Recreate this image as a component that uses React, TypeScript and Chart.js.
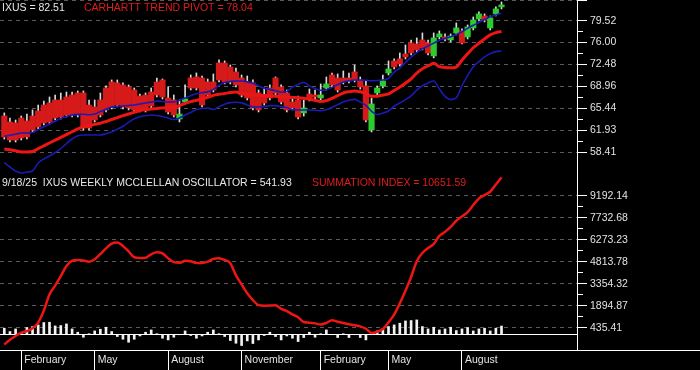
import React, { useEffect, useRef } from "react";
import { Chart, registerables } from "chart.js";

Chart.register(...registerables);

// ---------- categories (weekly bars) ----------
const START_DATE = "2024-01-12"; // first weekly bar
const WEEK_COUNT = 89;
const MONTH_NAMES = ["January", "February", "March", "April", "May", "June", "July", "August", "September", "October", "November", "December"];
const LABELED_MONTHS = [1, 4, 7, 10];

// ---------- price panel (IXUS weekly) ----------
const openPrices = [
  64.23, 63.27, 63.11, 63.91, 63.43, 64.23, 65.04, 65.99, 66.32, 66.8,
  66.8, 67.28, 67.6, 67.92, 67.92, 65.99, 65.68, 66.8, 68.72, 69.69,
  69.53, 69.21, 68.89, 68.4, 67.44, 67.6, 68.08, 69.69, 70.01, 67.12,
  66.8, 63.75, 66.48, 70.33, 70.49, 70.33, 69.69, 69.69, 72.73, 72.73,
  72.09, 71.29, 70.33, 69.69, 69.53, 67.92, 67.6, 68.72, 70.33, 68.89,
  67.92, 66.48, 66.8, 64.72, 67.76, 67.6, 67.12, 68.72, 70.81, 70.33,
  70.33, 70.33, 71.29, 70.01, 69.05, 61.99, 67.92, 69.05, 71.13, 73.06,
  73.38, 74.18, 75.94, 75.78, 76.42, 75.94, 73.86, 76.91, 76.91, 76.42,
  77.55, 77.87, 76.91, 78.35, 79.79, 80.27, 78.35, 80.6, 81.72,
];
const highPrices = [
  64.72, 63.91, 63.59, 64.23, 64.55, 65.2, 65.99, 66.64, 67.28, 67.6,
  67.92, 68.08, 68.08, 68.24, 68.24, 66.8, 66.8, 67.92, 69.05, 70.01,
  70.01, 69.53, 69.21, 68.72, 67.76, 67.92, 68.72, 70.33, 70.17, 68.89,
  67.6, 66.8, 69.21, 70.81, 71.13, 70.65, 70.17, 70.97, 73.22, 73.06,
  72.41, 71.93, 70.81, 70.65, 70.01, 68.4, 68.72, 69.21, 70.49, 69.21,
  68.4, 67.12, 67.44, 66.8, 68.56, 68.4, 69.37, 70.49, 71.13, 70.97,
  71.45, 71.13, 72.41, 70.49, 69.85, 67.12, 69.05, 70.81, 73.06, 73.38,
  74.34, 75.62, 76.42, 76.75, 77.55, 76.42, 77.55, 77.87, 77.39, 77.39,
  79.15, 78.19, 78.83, 80.11, 80.92, 80.6, 80.27, 81.72, 82.52,
];
const lowPrices = [
  60.54, 60.06, 60.06, 60.38, 60.54, 61.67, 62.15, 62.79, 62.95, 63.59,
  63.75, 64.07, 64.07, 64.07, 61.99, 61.99, 63.27, 64.07, 64.88, 65.36,
  65.68, 65.36, 65.2, 64.88, 64.88, 64.88, 65.52, 67.28, 66.96, 64.55,
  64.07, 63.27, 66.16, 68.4, 68.4, 65.68, 67.28, 68.08, 69.69, 69.37,
  69.37, 68.89, 67.28, 66.8, 65.2, 64.88, 65.99, 66.8, 67.6, 66.16,
  64.88, 65.2, 63.75, 64.23, 66.64, 66.96, 66.8, 68.4, 68.89, 68.08,
  69.37, 69.53, 69.69, 68.56, 63.27, 61.67, 67.6, 68.72, 70.81, 71.77,
  72.25, 73.38, 74.02, 74.5, 74.82, 74.02, 73.54, 76.58, 76.26, 76.1,
  77.23, 75.78, 76.58, 78.03, 79.47, 79.31, 78.03, 80.27, 81.4,
];
const closePrices = [
  60.87, 60.38, 60.38, 60.71, 60.87, 61.99, 62.47, 63.11, 63.27, 63.91,
  64.07, 64.39, 64.39, 64.39, 62.31, 62.31, 63.59, 64.39, 65.2, 65.68,
  65.99, 65.68, 65.52, 65.2, 65.2, 65.2, 65.84, 67.6, 67.28, 64.88,
  64.39, 64.55, 66.96, 68.72, 68.72, 65.99, 67.6, 68.4, 70.01, 69.69,
  69.69, 69.21, 67.6, 67.12, 65.52, 65.2, 66.32, 67.12, 67.92, 66.48,
  65.2, 65.52, 64.07, 65.52, 66.96, 67.28, 67.6, 69.37, 69.21, 68.4,
  69.69, 69.85, 70.01, 68.89, 63.59, 66.16, 68.72, 69.85, 71.77, 72.09,
  72.57, 73.7, 74.34, 74.82, 75.14, 74.34, 76.75, 77.39, 76.58, 77.07,
  78.35, 75.94, 78.51, 79.63, 80.6, 79.63, 79.95, 81.4, 82.04,
];
const trendPivot = [
  58.94, 58.83, 58.65, 58.46, 58.46, 58.54, 59.0, 59.45, 59.9, 60.35,
  60.8, 61.25, 61.7, 62.15, 62.52, 62.71, 62.89, 63.06, 63.35, 63.67,
  63.98, 64.28, 64.55, 64.83, 65.1, 65.24, 65.34, 65.44, 65.52, 65.6,
  65.66, 65.9, 66.25, 66.54, 66.74, 66.96, 67.23, 67.54, 67.7, 67.84,
  67.99, 68.07, 67.79, 67.7, 67.6, 67.55, 67.51, 67.46, 67.41, 67.3,
  67.27, 67.2, 67.17, 67.09, 66.91, 66.74, 66.56, 66.69, 67.06, 67.49,
  67.92, 68.12, 68.23, 68.13, 67.86, 67.41, 67.41, 67.59, 67.76, 68.32,
  68.87, 69.49, 70.2, 71.1, 71.8, 72.25, 72.67, 72.14, 72.01, 71.95,
  72.08, 73.17, 74.2, 75.17, 75.89, 76.6, 77.23, 77.6, 77.8,
];
const upperBand = [
  60.96, 61.14, 61.31, 61.51, 61.51, 61.59, 62.05, 62.5, 62.95, 63.4,
  63.85, 64.14, 64.39, 64.49, 64.52, 64.44, 64.55, 64.94, 65.31, 65.68,
  65.76, 65.84, 65.92, 66.0, 66.16, 66.32, 66.45, 66.62, 66.56, 66.48,
  66.48, 66.75, 67.1, 67.49, 67.79, 67.97, 68.1, 68.5, 69.14, 69.59,
  69.78, 69.85, 69.85, 69.7, 69.49, 69.06, 68.68, 68.5, 68.29, 68.04,
  68.16, 68.85, 69.3, 69.61, 69.06, 68.63, 68.36, 68.45, 68.82, 69.25,
  69.7, 69.88, 70.01, 70.01, 69.96, 69.88, 69.91, 70.01, 70.25, 71.27,
  71.92, 72.82, 73.68, 74.4, 75.01, 75.46, 75.91, 76.38, 76.66, 76.95,
  77.31, 77.74, 78.28, 78.77, 79.22, 79.68, 80.13, 80.43, 80.72,
];
const lowerBand = [
  56.76, 56.05, 55.41, 55.09, 55.25, 55.41, 56.69, 57.34, 57.82, 58.38,
  59.0, 59.81, 60.54, 61.07, 61.19, 61.19, 61.19, 61.19, 61.39, 61.67,
  62.1, 62.58, 63.21, 63.77, 64.11, 64.28, 64.38, 64.3, 64.15, 63.91,
  63.66, 63.91, 64.38, 64.79, 65.26, 65.42, 65.5, 65.26, 65.73, 66.11,
  66.37, 66.43, 66.33, 66.01, 65.68, 65.68, 65.73, 65.9, 65.9, 65.73,
  65.58, 65.21, 65.2, 65.2, 65.2, 65.16, 65.07, 65.24, 65.61, 66.05,
  66.49, 66.75, 66.9, 66.48, 65.92, 64.99, 64.46, 64.7, 65.04, 65.79,
  66.32, 66.85, 67.46, 68.37, 69.08, 69.53, 69.85, 68.55, 67.38, 66.86,
  67.12, 69.08, 70.71, 72.14, 72.94, 73.7, 74.23, 74.55, 74.66,
];

// ---------- oscillator panel ----------
const mcclellanOscillator = [
  398, 179, 352, 66, 444, 511, 617, 776, 796, 551,
  577, 683, 352, 133, -199, 33, 219, 332, 464, 179,
  -153, -332, -531, -332, -113, 133, 285, 33, -265, -378,
  -199, -33, 219, -86, -265, -113, 133, 285, 20, -153,
  -418, -597, -750, -444, -617, -378, -86, 133, -153, -378,
  -113, -265, -484, -219, 133, -199, 20, 285, -20, -219,
  20, -219, -20, -219, -378, -20, 219, 352, 511, 617,
  730, 882, 909, 949, 511, 352, 464, 285, 352, 464,
  245, 352, 444, 219, 352, 398, 219, 398, 541.93,
];
const summationIndex = [
  -679, -374, -122, 110, 216, 402, 774, 1570, 2644, 3228,
  3852, 4528, 4877, 4926, 4900, 4807, 4973, 5324, 5696, 6014,
  6087, 5855, 5497, 5106, 5059, 5079, 5305, 5444, 5364, 5033,
  4780, 4734, 4873, 4840, 4727, 4727, 4814, 4999, 5046, 4933,
  4714, 3905, 3308, 2717, 2266, 1928, 1894, 1901, 1921, 1682,
  1536, 1311, 1132, 807, 767, 720, 647, 754, 926, 833,
  747, 667, 594, 521, 362, 84, 157, 349, 787, 1304,
  2047, 2877, 3799, 4840, 5391, 5716, 5988, 6525, 6791, 7116,
  7527, 7812, 8097, 8575, 9006, 9225, 9454, 9929, 10406,
];

// ---------- tick labels ----------
const topTickLabels = ["58.41", "61.93", "65.44", "68.96", "72.48", "76.00", "79.52"];
const bottomTickLabels = ["435.41", "1894.87", "3354.32", "4813.78", "6273.23", "7732.68", "9192.14"];

// ---------- titles ----------
const priceTitle = "IXUS = 82.51";
const pivotTitle = "CARHARTT TREND PIVOT = 78.04";
const oscTitle = "9/18/25  IXUS WEEKLY MCCLELLAN OSCILLATOR = 541.93";
const sumTitle = "SUMMATION INDEX = 10651.59";

// ---------- axis ranges ----------
const TOP_MIN = 55.25;
const TOP_MAX = 82.83;
const BOT_MIN = -1046;
const BOT_MAX = 10762;
const X_MIN = -0.76;
const X_MAX = 101.36;

const FONT = "'Liberation Sans', Arial, Helvetica, sans-serif";
const AXIS_TEXT = "#e2e2e2";
const GRID_COLOR = "#5a5a5a";
const RED_LINE = "#ee1515";
const BLUE_LINE = "#1a1ab4";
const BODY_RED = "#d61a1a";
const BODY_GREEN = "#2ccc2c";

const weekDates = Array.from({ length: WEEK_COUNT }, (_, i) => {
  const d = new Date(START_DATE + "T00:00:00Z");
  d.setUTCDate(d.getUTCDate() + 7 * i);
  return d;
});
const monthTickIndices = weekDates
  .map((d, i) =>
    i > 0 && d.getUTCMonth() !== weekDates[i - 1].getUTCMonth() && LABELED_MONTHS.includes(d.getUTCMonth()) ? i : -1
  )
  .filter((i) => i >= 0);

const near = (a: number, b: number) => Math.abs(a - b) < 1e-6;

const majorTop = topTickLabels.map(Number);
const minorTop = majorTop.slice(1).map((v, i) => (v + majorTop[i]) / 2);
const majorBot = bottomTickLabels.map(Number);
const minorBot = majorBot.slice(1).map((v, i) => (v + majorBot[i]) / 2);

function kindFor(value: number, majors: number[], minors: number[]) {
  if (majors.some((m) => near(m, value))) return "major";
  if (minors.some((m) => near(m, value))) return "minor";
  if (value === 0) return "zero";
  return "edge";
}

function axisOptions(majors: number[], minors: number[], labels: string[], extra: number[], weight: number, min: number, max: number) {
  const kind = (c: any) => (c && c.tick ? kindFor(c.tick.value, majors, minors) : "major");
  return {
    type: "linear" as const,
    position: "right" as const,
    stack: "panels",
    stackWeight: weight,
    min,
    max,
    bounds: "data" as const,
    afterBuildTicks: (s: any) => {
      s.ticks = [...majors, ...minors, ...extra].sort((a, b) => a - b).map((v) => ({ value: v }));
    },
    afterFit: (s: any) => {
      s.width = 123;
      s.paddingTop = 0;
      s.paddingBottom = 0;
    },
    grid: {
      drawOnChartArea: true,
      drawTicks: true,
      tickLength: 10,
      lineWidth: 1,
      color: (c: any) => {
        const k = kind(c);
        if (k === "minor") return "rgba(0,0,0,0)";
        if (k === "zero") return "#ffffff";
        return GRID_COLOR;
      },
      tickColor: (c: any) => (kind(c) === "zero" ? "rgba(0,0,0,0)" : "#ffffff"),
      tickWidth: 1,
      tickBorderDash: (c: any) => (kind(c) === "minor" ? [5, 60] : []),
    },
    border: {
      display: true,
      color: "#ffffff",
      width: 1,
      dash: (c: any) => (kind(c) === "zero" ? [] : [4, 4]),
    },
    ticks: {
      autoSkip: false,
      padding: 3,
      color: AXIS_TEXT,
      font: { family: FONT, size: 10.5 },
      callback: (v: any) => {
        const k = majors.findIndex((m) => near(m, Number(v)));
        return k >= 0 ? labels[k] : "";
      },
    },
  };
}

const framePlugin = {
  id: "frameAndTitles",
  afterDraw(chart: any) {
    const { ctx, chartArea, width } = chart;
    const yBot = chart.scales.yBot;
    ctx.save();
    ctx.strokeStyle = "#ffffff";
    ctx.lineWidth = 1;
    const by = Math.round(chartArea.bottom) + 0.5;
    ctx.beginPath();
    ctx.moveTo(chartArea.right, by);
    ctx.lineTo(width, by);
    ctx.stroke();

    ctx.font = `10.5px ${FONT}`;
    ctx.textBaseline = "alphabetic";
    ctx.textAlign = "left";
    ctx.fillStyle = "#e8e8e8";
    ctx.fillText(priceTitle, chartArea.left + 2, chartArea.top + 10.5);
    ctx.fillText(oscTitle, chartArea.left + 2, yBot.top + 13.5);
    ctx.fillStyle = "#e01c1c";
    ctx.fillText(pivotTitle, chartArea.left + 84, chartArea.top + 10.5);
    ctx.fillText(sumTitle, chartArea.left + 312, yBot.top + 13.5);
    ctx.restore();
  },
};

export default function App() {
  const canvasRef = useRef<HTMLCanvasElement | null>(null);

  useEffect(() => {
    const canvas = canvasRef.current;
    if (!canvas) return;
    const idx = closePrices.map((_, i) => i);

    const chart = new Chart(canvas, {
      type: "bar",
      data: {
        datasets: [
          {
            type: "line",
            label: "Carhartt trend pivot",
            data: idx.map((i) => ({ x: i, y: trendPivot[i] })),
            borderColor: RED_LINE,
            borderWidth: 3,
            pointRadius: 0,
            cubicInterpolationMode: "monotone",
            xAxisID: "x",
            yAxisID: "yTop",
            order: 0,
          },
          {
            type: "line",
            label: "Upper band",
            data: idx.map((i) => ({ x: i, y: upperBand[i] })),
            borderColor: BLUE_LINE,
            borderWidth: 1.6,
            pointRadius: 0,
            cubicInterpolationMode: "monotone",
            xAxisID: "x",
            yAxisID: "yTop",
            order: 1,
          },
          {
            type: "line",
            label: "Lower band",
            data: idx.map((i) => ({ x: i, y: lowerBand[i] })),
            borderColor: BLUE_LINE,
            borderWidth: 1.6,
            pointRadius: 0,
            cubicInterpolationMode: "monotone",
            clip: false,
            xAxisID: "x",
            yAxisID: "yTop",
            order: 1,
          },
          {
            type: "bar",
            label: "Body",
            data: idx.map((i) => ({ x: i, y: [Math.min(openPrices[i], closePrices[i]), Math.max(openPrices[i], closePrices[i])] })),
            backgroundColor: idx.map((i) => (closePrices[i] >= openPrices[i] ? BODY_GREEN : BODY_RED)),
            barThickness: 5.5,
            grouped: false,
            borderWidth: 0,
            xAxisID: "x",
            yAxisID: "yTop",
            order: 2,
          } as any,
          {
            type: "bar",
            label: "Wick",
            data: idx.map((i) => ({ x: i, y: [lowPrices[i], highPrices[i]] })),
            backgroundColor: "#dadada",
            barThickness: 1,
            grouped: false,
            borderWidth: 0,
            xAxisID: "x",
            yAxisID: "yTop",
            order: 3,
          } as any,
          {
            type: "bar",
            label: "McClellan oscillator",
            data: idx.map((i) => ({ x: i, y: mcclellanOscillator[i] })),
            backgroundColor: "#f2f2f2",
            barThickness: 2,
            grouped: false,
            borderWidth: 0,
            xAxisID: "x",
            yAxisID: "yBot",
            order: 4,
          } as any,
          {
            type: "line",
            label: "Summation index",
            data: idx.map((i) => ({ x: i, y: summationIndex[i] })),
            borderColor: RED_LINE,
            borderWidth: 2.5,
            pointRadius: 0,
            cubicInterpolationMode: "monotone",
            xAxisID: "x",
            yAxisID: "yBot",
            order: 0,
          },
        ] as any,
      },
      options: {
        responsive: false,
        animation: false,
        devicePixelRatio: 1,
        events: [],
        layout: { padding: 0, autoPadding: false },
        plugins: { legend: { display: false }, tooltip: { enabled: false }, title: { display: false } },
        scales: {
          x: {
            type: "linear",
            position: "bottom",
            min: X_MIN,
            max: X_MAX,
            offset: false,
            bounds: "data",
            afterBuildTicks: (s: any) => {
              s.ticks = monthTickIndices.map((v) => ({ value: v }));
            },
            afterFit: (s: any) => {
              s.height = 20;
              s.paddingLeft = 0;
              s.paddingRight = 0;
            },
            grid: {
              offset: false,
              drawOnChartArea: false,
              drawTicks: true,
              tickLength: 20,
              color: "#ffffff",
              tickColor: "#ffffff",
              tickWidth: 1,
            },
            border: { display: true, color: "#ffffff", width: 1 },
            ticks: {
              autoSkip: false,
              maxRotation: 0,
              minRotation: 0,
              align: "start",
              labelOffset: 3,
              padding: -16,
              color: AXIS_TEXT,
              font: { family: FONT, size: 10.5 },
              callback: (v: any) => {
                const i = Math.round(Number(v));
                return weekDates[i] ? MONTH_NAMES[weekDates[i].getUTCMonth()] : "";
              },
            },
          },
          yTop: axisOptions(majorTop, minorTop, topTickLabels, [TOP_MAX], 172, TOP_MIN, TOP_MAX),
          yBot: axisOptions(majorBot, minorBot, bottomTickLabels, [0], 178, BOT_MIN, BOT_MAX),
        } as any,
      },
      plugins: [framePlugin],
    } as any);

    return () => chart.destroy();
  }, []);

  return (
    <div style={{ position: "fixed", left: 0, top: 0, width: 700, height: 370, background: "#000", overflow: "hidden" }}>
      <canvas ref={canvasRef} width={700} height={370} style={{ display: "block", width: 700, height: 370 }} />
    </div>
  );
}
